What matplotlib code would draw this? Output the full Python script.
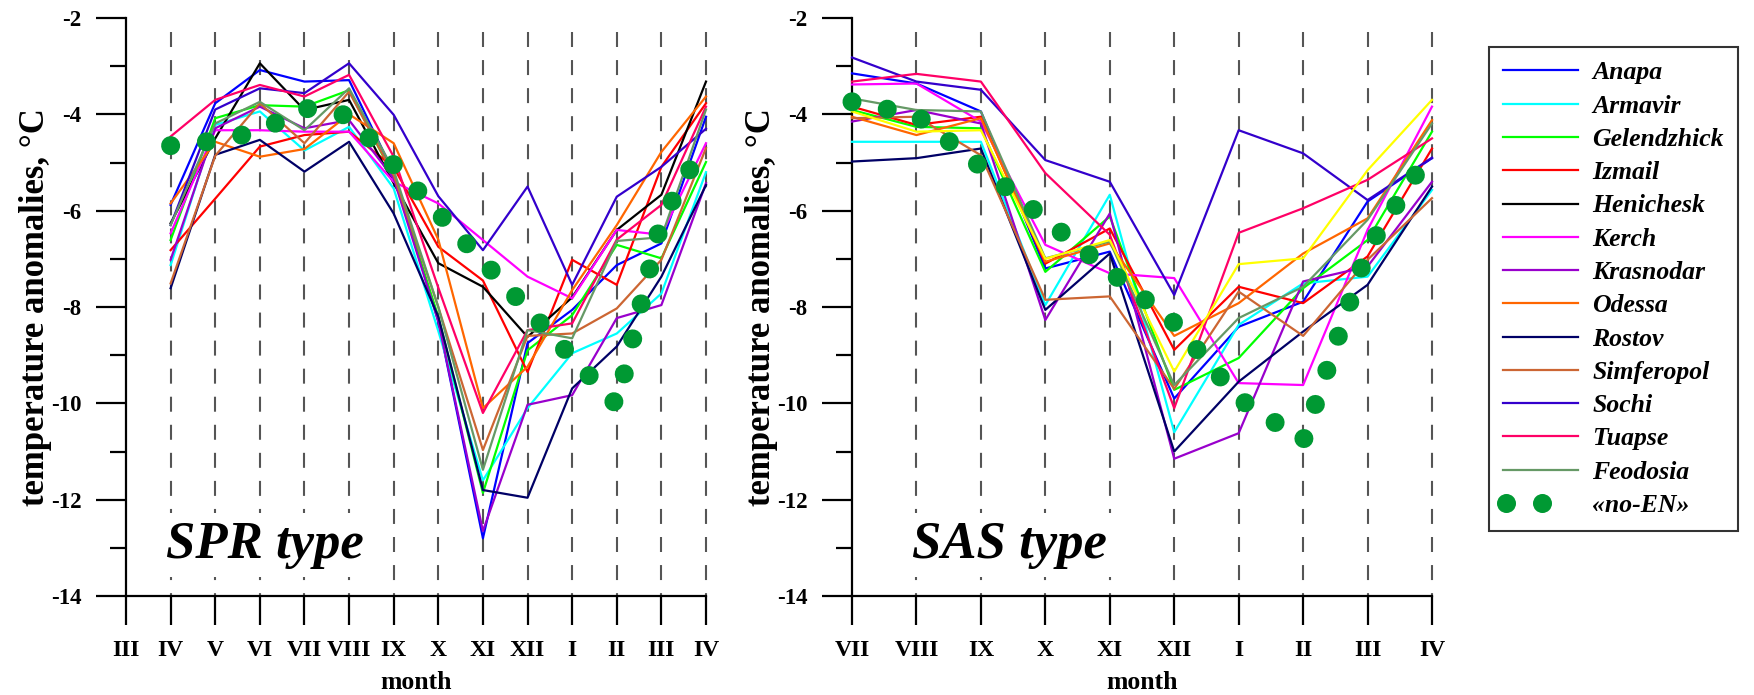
import matplotlib
matplotlib.use("Agg")
import matplotlib.pyplot as plt
from matplotlib.lines import Line2D
from matplotlib.legend_handler import HandlerBase
from matplotlib.font_manager import FontProperties

plt.rcParams["font.family"] = ["Liberation Serif", "DejaVu Serif"]
plt.rcParams["font.weight"] = "bold"
plt.rcParams["axes.unicode_minus"] = False
plt.rcParams["lines.scale_dashes"] = False

# ---------------------------------------------------------------- data
stations = ["Anapa", "Armavir", "Gelendzhick", "Izmail", "Henichesk", "Kerch",
            "Krasnodar", "Odessa", "Rostov", "Simferopol", "Sochi", "Tuapse",
            "Feodosia"]
station_colors = ["#0000FF", "#00FFFF", "#00FF00", "#FF0000", "#000000",
                  "#FF00FF", "#9900CC", "#FF6600", "#000066", "#CC6633",
                  "#3300CC", "#FF0066", "#669966"]
noen_color = "#009933"

months_spr = ["III", "IV", "V", "VI", "VII", "VIII", "IX", "X", "XI", "XII",
              "I", "II", "III", "IV"]
months_sas = ["VII", "VIII", "IX", "X", "XI", "XII", "I", "II", "III", "IV"]

# SPR type: monthly anomalies from IV to the following IV
spr_anapa = [-5.88, -3.77, -3.08, -3.32, -3.29, -5.22, -8.3, -12.8, -8.75, -8.06, -7.13, -6.68, -4.05]
spr_armavir = [-7.13, -4.22, -3.94, -4.75, -4.26, -5.54, -8.5, -11.6, -10.1, -8.96, -8.55, -7.72, -5.2]
spr_gelendzhick = [-6.61, -4.08, -3.81, -3.84, -3.5, -5.29, -8.2, -11.86, -8.9, -8.17, -6.71, -6.99, -4.99]
spr_izmail = [-6.82, -5.75, -4.67, -4.43, -4.36, -5.1, -6.75, -7.45, -9.35, -7.02, -7.54, -5.09, -3.77]
spr_henichesk = [-6.26, -4.5, -2.94, -3.91, -3.7, -5.43, -7.09, -7.58, -8.62, -7.8, -6.4, -5.67, -3.32]
spr_kerch = [-6.47, -4.33, -4.33, -4.36, -4.36, -5.4, -5.85, -6.61, -7.37, -7.82, -6.4, -6.5, -4.6]
spr_krasnodar = [-7.02, -4.29, -3.84, -4.29, -4.12, -5.33, -8.3, -12.65, -10.03, -9.83, -8.23, -7.96, -5.43]
spr_odessa = [-5.85, -4.57, -4.88, -4.72, -4.0, -4.6, -6.6, -10.1, -9.24, -7.65, -6.3, -4.78, -3.63]
spr_rostov = [-7.61, -4.84, -4.53, -5.19, -4.57, -6.06, -8.2, -11.8, -11.96, -9.69, -8.82, -7.37, -5.47]
spr_simferopol = [-7.51, -4.86, -3.77, -4.6, -3.53, -5.26, -8.0, -10.97, -8.6, -8.55, -8.03, -7.02, -4.7]
spr_sochi = [-6.3, -3.9, -3.46, -3.56, -2.94, -4.01, -5.7, -6.82, -5.5, -7.54, -5.71, -5.09, -4.3]
spr_tuapse = [-4.46, -3.7, -3.39, -3.63, -3.18, -4.88, -7.6, -10.2, -8.48, -8.34, -6.6, -5.88, -3.84]
spr_feodosia = [-6.3, -4.19, -3.74, -4.33, -3.46, -5.16, -8.0, -11.38, -8.48, -8.65, -6.63, -6.55, -3.9]
spr_noen = [-4.65, -4.55, -4.35, -3.87, -4.03, -5.05, -6.05, -7.05, -8.05, -9.05, -10.03, -6.2, -4.55]

# SAS type: monthly anomalies from VII to the following IV
sas_anapa = [-3.15, -3.36, -3.94, -7.2, -6.85, -9.9, -8.41, -7.89, -5.81, -4.91]
sas_armavir = [-4.57, -4.57, -4.57, -7.96, -5.67, -10.6, -8.37, -7.51, -7.37, -5.57]
sas_gelendzhick = [-3.91, -4.26, -4.29, -7.27, -6.12, -9.72, -9.06, -7.61, -6.61, -4.36]
sas_izmail = [-3.84, -4.22, -4.05, -7.1, -6.37, -8.89, -7.58, -7.92, -6.95, -4.71]
sas_kerch = [-3.38, -3.36, -4.15, -6.71, -7.3, -7.4, -9.58, -9.62, -6.4, -3.84]
sas_krasnodar = [-4.15, -3.91, -4.19, -8.27, -6.06, -11.15, -10.62, -7.47, -7.16, -5.4]
sas_odessa = [-4.05, -4.43, -4.08, -7.06, -6.68, -8.6, -7.92, -6.89, -6.16, -4.12]
sas_rostov = [-4.98, -4.91, -4.71, -8.06, -6.89, -11.0, -9.55, -8.51, -7.54, -5.5]
sas_simferopol = [-4.08, -4.05, -4.85, -7.85, -7.78, -9.7, -7.68, -8.6, -7.02, -5.74]
sas_sochi = [-2.82, -3.32, -3.49, -4.95, -5.4, -7.75, -4.33, -4.81, -5.78, -4.9]
sas_tuapse = [-3.32, -3.16, -3.32, -5.22, -6.5, -10.1, -6.46, -5.95, -5.36, -4.5]
sas_feodosia = [-3.67, -3.91, -3.94, -6.99, -6.64, -9.62, -8.23, -7.58, -6.19, -4.19]
sas_yellow = [-3.94, -4.36, -4.33, -7.0, -6.61, -9.34, -7.11, -6.99, -5.16, -3.7]
sas_noen = [-3.74, -4.02, -5.09, -6.18, -7.26, -8.33, -9.9, -10.78, -6.8, -4.73]

spr_series = [spr_anapa, spr_armavir, spr_gelendzhick, spr_izmail, spr_henichesk,
              spr_kerch, spr_krasnodar, spr_odessa, spr_rostov, spr_simferopol,
              spr_sochi, spr_tuapse, spr_feodosia]
sas_series = [sas_anapa, sas_armavir, sas_gelendzhick, sas_izmail, None,
              sas_kerch, sas_krasnodar, sas_odessa, sas_rostov, sas_simferopol,
              sas_sochi, sas_tuapse, sas_feodosia]

# ---------------------------------------------------------------- figure
W, H = 1754, 695
fig = plt.figure(figsize=(W / 100, H / 100), dpi=100)
axL = fig.add_axes([126 / W, 99 / H, 580 / W, 578 / H])
axR = fig.add_axes([852 / W, 99 / H, 580 / W, 578 / H])

DOT_LW = 13.7      # dot diameter (pt)
DOT_STEP = 25.9    # spacing between dots along the path (pt)


def style_axes(ax, labels):
    n = len(labels) - 1
    ax.set_xlim(0, n)
    ax.set_ylim(-14, -2)
    for s in ("top", "right"):
        ax.spines[s].set_visible(False)
    for s in ("left", "bottom"):
        ax.spines[s].set_linewidth(1.6)
    ax.set_xticks(range(n + 1))
    ax.set_xticklabels(labels)
    ax.set_yticks(range(-14, -1, 2))
    ax.set_yticks(range(-13, -2, 2), minor=True)
    ax.tick_params(axis="x", direction="out", length=21, width=1.6, pad=11, labelsize=17)
    ax.tick_params(axis="y", which="major", direction="out", length=21.5, width=1.6,
                   pad=10.5, labelsize=16.5)
    ax.tick_params(axis="y", which="minor", direction="out", length=11.5, width=1.6)
    for lab in ax.get_xticklabels() + ax.get_yticklabels():
        lab.set_fontweight("bold")
    for x in range(1, n + 1):
        ax.plot([x, x], [-2.29, -14], color="#555555", lw=1.5,
                dashes=(10.8, 9.4), zorder=1, clip_on=False)


def draw_panel(ax, labels, series, noen, extra=None):
    xs = list(range(1, len(labels))) if len(labels) == 14 else list(range(len(labels)))
    handles = []
    for name, color, vals in zip(stations, station_colors, series):
        if vals is None:
            continue
        ln, = ax.plot(xs, vals, color=color, lw=1.6, label=name, zorder=3, clip_on=False)
        handles.append(ln)
    if extra is not None:
        ax.plot(xs, extra, color="#FFFF00", lw=1.6, zorder=3, clip_on=False)
    dots, = ax.plot(xs, noen, color=noen_color, lw=DOT_LW, dashes=(0.01, DOT_STEP),
                    dash_capstyle="round", label="\u00abno-EN\u00bb", zorder=5,
                    clip_on=False)
    return handles, dots


style_axes(axL, months_spr)
style_axes(axR, months_sas)
hL, dotsL = draw_panel(axL, months_spr, spr_series, spr_noen)
draw_panel(axR, months_sas, sas_series, sas_noen, extra=sas_yellow)

box = dict(facecolor="white", edgecolor="none", pad=6)
axL.text(0.9, -13.21, "SPR type", fontsize=38, style="italic", weight="bold",
         ha="left", va="baseline", bbox=box, zorder=2)
axR.text(0.93, -13.21, "SAS type", fontsize=38, style="italic", weight="bold",
         ha="left", va="baseline", bbox=box, zorder=2)

for xc in (36, 762):
    fig.text(xc / W, 1 - 307 / H, "temperature anomalies, \u00b0C", rotation=90,
             ha="center", va="center", fontsize=25, weight="bold")
for xc in (416, 1142):
    fig.text(xc / W, 6 / H, "month", ha="center", va="baseline", fontsize=18.5,
             weight="bold")


class DotPairHandler(HandlerBase):
    def create_artists(self, legend, orig_handle, xdescent, ydescent, width,
                       height, fontsize, trans):
        y = height / 2 - ydescent
        x0 = -xdescent
        art = Line2D([x0 + 0.03 * width, x0 + 0.52 * width], [y, y], linestyle="none",
                     marker="o", markersize=DOT_LW, markerfacecolor=noen_color,
                     markeredgecolor="none")
        art.set_transform(trans)
        return [art]


leg_font = FontProperties(family="Liberation Serif", style="italic", weight="bold",
                          size=18.5)
leg = fig.legend(hL + [dotsL], stations + ["\u00abno-EN\u00bb"], loc="upper left",
                 bbox_to_anchor=(1489 / W, 1 - 47 / H), bbox_transform=fig.transFigure,
                 borderaxespad=0, frameon=True, fancybox=False, edgecolor="black",
                 prop=leg_font, handlelength=2.9, handletextpad=0.55,
                 labelspacing=0.4, borderpad=0.56,
                 handler_map={dotsL: DotPairHandler()})
leg.get_frame().set_linewidth(1.5)

fig.savefig("out.png", dpi=100)
